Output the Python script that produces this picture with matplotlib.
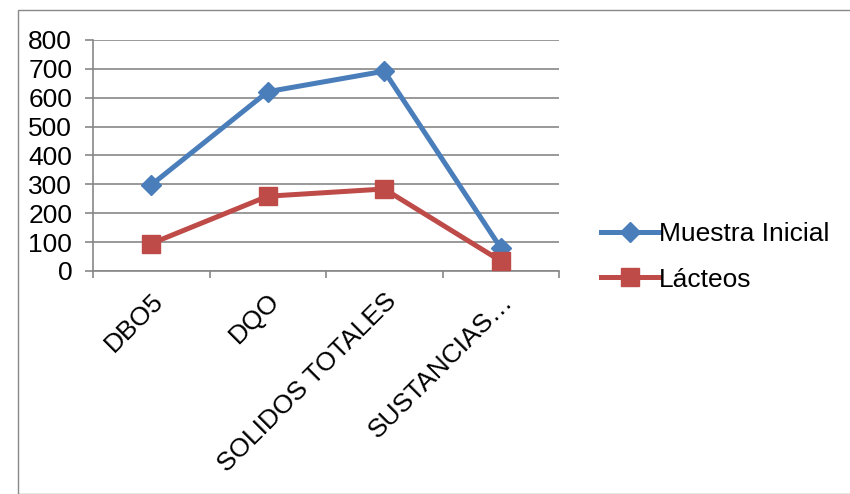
import matplotlib
matplotlib.use("Agg")
import matplotlib.pyplot as plt
from matplotlib.patches import Rectangle

categories = ["DBO5", "DQO", "SOLIDOS TOTALES", "SUSTANCIAS…"]
muestra_inicial = [298, 621, 692, 80]
lacteos = [95, 259, 284, 35]
series_names = ["Muestra Inicial", "Lácteos"]
yticks = [0, 100, 200, 300, 400, 500, 600, 700, 800]

plt.rcParams['font.family'] = ['Liberation Sans', 'DejaVu Sans']

fig = plt.figure(figsize=(8.5, 4.94), dpi=100)
W, H = 850, 494
# outer chart border
fig.patches.append(Rectangle((18 / W, 0), 1, 1 - 10 / H, transform=fig.transFigure,
                             fill=False, edgecolor='#888888', linewidth=1.0))

ax = fig.add_axes([93 / W, 1 - 271 / H, (559 - 93) / W, (271 - 40) / H])
x = list(range(len(categories)))
ax.plot(x, muestra_inicial, color='#4A7EBB', linewidth=3.6, marker='D', markersize=10,
        label=series_names[0], zorder=3)
ax.plot(x, lacteos, color='#BE4B48', linewidth=3.6, marker='s', markersize=13.5,
        label=series_names[1], zorder=3)

ax.set_xlim(-0.5, len(categories) - 0.5)
ax.set_ylim(0, 800)
ax.set_yticks(yticks)
ax.set_yticklabels([str(v) for v in yticks], fontsize=19)
ax.yaxis.grid(True, color='#878787', linewidth=1.2)
ax.set_axisbelow(True)
for s in ['top', 'right']:
    ax.spines[s].set_visible(False)
ax.spines['left'].set_color('#878787')
ax.spines['bottom'].set_color('#878787')
ax.spines['left'].set_linewidth(1.2)
ax.spines['bottom'].set_linewidth(1.2)
ax.tick_params(axis='y', length=6, width=1.2, color='#878787', pad=9)
ax.set_xticks([i - 0.5 for i in range(len(categories) + 1)], minor=False)
ax.set_xticklabels([])
ax.tick_params(axis='x', length=5, width=1.2, color='#878787')
ax.set_xticks(x, minor=True)
ax.set_xticklabels(categories, minor=True, rotation=45, ha='right', rotation_mode='anchor',
                   fontsize=19)
ax.tick_params(axis='x', which='minor', length=0, pad=13)

leg = ax.legend(loc='center left', bbox_to_anchor=(577 / W, 1 - 257 / H),
                bbox_transform=fig.transFigure, frameon=False, fontsize=19,
                handlelength=2.2, handletextpad=0.0, labelspacing=0.8)

fig.savefig("out.png", dpi=100)
